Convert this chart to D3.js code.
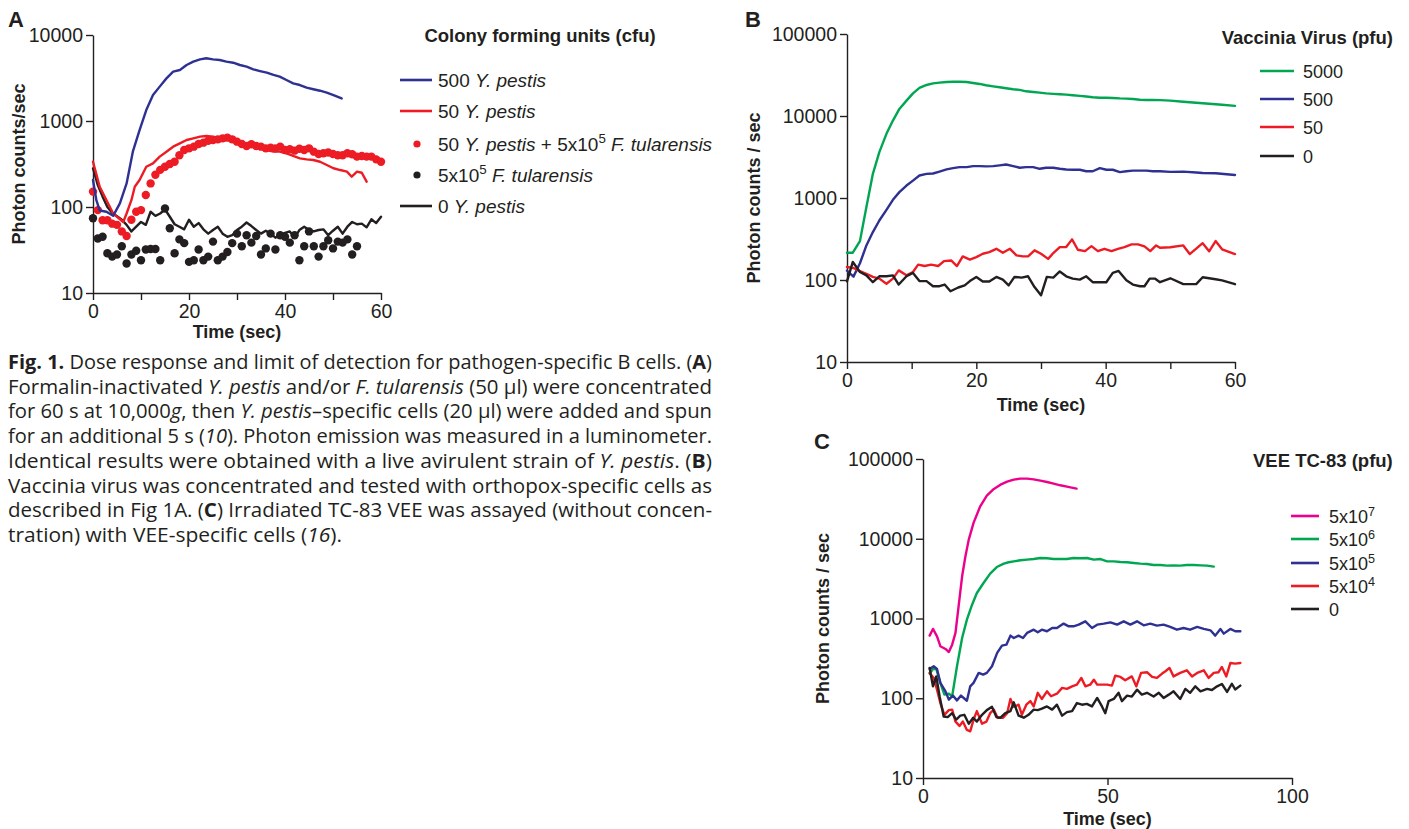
<!DOCTYPE html>
<html>
<head>
<meta charset="utf-8">
<script src="https://cdn.jsdelivr.net/npm/d3@7"></script>
<style>
  body { margin: 0; background: #fff; }
  svg text { font-family: "Liberation Sans", Arial, Helvetica, sans-serif; fill: #231f20; white-space: pre; }
  .caption text { font-family: "Liberation Sans Narrow", "Open Sans", sans-serif; }
</style>
</head>
<body>
<svg id="fig" width="1409" height="829"></svg>
<script>
// ---- Panel A: Y. pestis / F. tularensis (time in sec, photon counts/sec)
const aBlue500 = [[0,206],[0.7,120],[1.4,91],[2.8,88],[4.2,79],[5.6,110],[7,188],[8.3,440],[9.7,785],[11.1,1340],[12.5,2000],[13.9,2510],[15.3,3130],[16.7,3750],[18.1,3920],[19.5,4480],[20.9,4900],[22.3,5210],[23.6,5360],[25,5210],[26.4,5120],[27.8,4900],[29.2,4760],[30.6,4480],[32,4280],[33.4,3990],[34.8,3810],[36.2,3650],[37.6,3430],[38.9,3280],[40.3,3000],[41.7,2740],[43.1,2620],[44.5,2440],[45.9,2340],[47.3,2250],[48.7,2140],[50.1,2000],[51.8,1830]];
const aRed50 = [[0,336],[1.4,172],[4.2,84],[6.3,67],[7,84],[8,120],[8.7,172],[9.7,206],[11.1,294],[12.5,322],[13.9,385],[15.3,440],[16.7,503],[18.1,550],[19.5,601],[20.9,628],[22.3,658],[23.6,670],[25,658],[26.4,628],[27.8,612],[29.2,575],[30.6,541],[32,512],[33.4,503],[34.8,481],[36.2,460],[37.6,440],[38.9,440],[40.3,421],[41.7,392],[43.1,368],[44.5,358],[45.9,352],[47.3,336],[48.7,308],[50.1,282],[51.5,269],[52.9,258],[53.9,225],[55,258],[56,250],[57,197]];
// dots sampled once per second starting at t = 0
const aRedDots = [151,92,70,70,64,62,52,46,71,88,92,138,188,237,270,294,316,336,400,460,481,503,541,560,590,601,612,628,640,612,575,541,512,537,512,503,481,490,481,503,460,470,452,475,460,481,440,414,421,430,414,400,400,421,410,385,392,385,385,358,336];
const aBlackDots = [74,43,45,29,26.5,28,35,22,28,31,24,32,32.5,32.5,24,96,56.5,29,42,38,23,24,32,24,26.5,39.6,24,26.5,30,38,49,35,47,38.5,46,28,33,49,32,47,45,38.5,47,24,35,52,35,26.5,35,41,33,39.6,38.5,42,28,35];
const aBlack0 = [282,180,132,100,85,78,71,62,52,59,67,62,88,79,84,94,77,63,59,55,71,59,65,55,49,54,59,49,45,47,54,59,66,60,54,49,53,49,44,47,50,52,44,54,59,54,52,54,55,47,53,59,49,59,67,63,64,58,72,65,77];

// ---- Panel B: Vaccinia virus (pfu)
const bGreen5000 = [[0,215],[0.9,215],[2,298],[3,776],[4,1970],[5,3620],[6.1,6060],[7.1,8790],[8.1,12200],[9.2,15400],[10.2,18900],[11.2,22000],[12.3,23900],[13.3,25000],[14.3,25500],[15.4,26000],[16.4,26200],[17.4,26200],[18.5,26000],[19.5,25300],[20.5,24600],[21.5,23700],[22.6,23000],[23.6,22400],[24.6,21800],[25.7,21200],[26.7,20800],[27.7,20000],[28.8,19600],[29.8,19300],[30.8,18900],[31.9,18600],[32.9,18400],[33.9,18200],[34.9,17900],[36,17600],[37,17300],[38,16900],[39.1,16700],[40.1,16700],[41.1,16600],[42.2,16400],[43.2,16300],[44.2,16100],[45.3,15800],[46.3,15700],[47.3,15700],[48.4,15600],[50,15400],[52,14900],[54,14500],[56,14100],[58,13700],[60,13300]];
const bBlue500 = [[0,130],[1,110],[2,160],[3,264],[4,384],[5,532],[6.1,718],[7.1,950],[8.1,1180],[9.2,1420],[10.2,1630],[11.2,1880],[12.3,1970],[13.3,1990],[14.3,2100],[15.4,2230],[16.4,2310],[17.4,2380],[18.5,2380],[19.5,2450],[20.5,2450],[21.5,2430],[22.6,2450],[23.6,2500],[24.6,2560],[25.7,2450],[26.7,2340],[27.7,2380],[28.8,2380],[29.8,2270],[30.8,2340],[31.9,2340],[32.9,2270],[33.9,2230],[34.9,2210],[36,2210],[37,2120],[38,2120],[39.1,2310],[40.1,2210],[41.1,2210],[42.2,2070],[43.2,2120],[44.2,2160],[45.3,2160],[46.3,2160],[47.3,2120],[48.4,2120],[50,2080],[52,2100],[54,2050],[55,2020],[57,2000],[60,1910]];
const bRed50 = [[0,144],[1,140],[2,128],[3,119],[4,109],[5,104],[6.1,90],[7.1,104],[8,131],[9.2,114],[10.2,125],[11,154],[12,148],[13,154],[14.1,148],[15,170],[16.1,173],[17,148],[17.9,194],[19,177],[20,190],[21,209],[22,219],[23.1,240],[24.1,215],[25.2,240],[26.2,200],[27.2,194],[28,194],[29,230],[30,209],[31.1,181],[31.9,213],[32.9,252],[33.9,252],[34.8,313],[35.7,234],[36.8,225],[37.8,259],[38.8,225],[39.8,240],[40.9,225],[41.9,240],[42.9,252],[44,272],[45,272],[46,257],[46.9,225],[47.8,264],[48.4,247],[50,251],[52,264],[53,207],[55,281],[56,224],[57,298],[58,237],[60,207]];
const bBlack0 = [[0,96],[0.9,166],[2,125],[3,114],[4,94],[5,111],[6.1,111],[7.1,114],[8,88],[9.2,111],[10.2,122],[11.2,97],[12.3,97],[13.3,84],[14.3,84],[15.1,88],[16,73],[17.2,81],[18.2,86],[19,97],[20,109],[21,96],[22,96],[23.1,109],[24.1,101],[25,86],[25.9,109],[27,107],[28,111],[29,82],[30,65],[30.9,109],[31.9,107],[32.9,127],[33.9,111],[34.9,104],[36,101],[37,111],[38,94],[39,94],[40.1,94],[41.1,122],[42,129],[43.2,99],[44.2,88],[45.3,84],[46,84],[46.8,104],[47.6,104],[48.4,94],[50,105],[52,89],[54,89],[55,108],[57,102],[58,99],[60,89]];

// ---- Panel C: VEE TC-83 (pfu)
const cMagenta = [[1.8,610],[2.7,740],[3.8,598],[4.7,449],[6.1,415],[7,380],[7.9,470],[8.8,659],[9.7,1490],[10.6,3380],[11.5,6030],[12.4,9750],[13.7,15800],[15.5,25500],[17.3,34700],[19.2,42100],[21,47700],[22.8,52000],[24.6,55100],[26.4,56700],[28.2,56700],[30,55600],[31.8,53500],[33.6,51500],[35.4,49100],[37.2,46800],[39,45000],[41.6,42500]];
const cGreen = [[1.8,204],[2.7,233],[3.6,233],[4.7,156],[5.8,111],[7,114],[7.9,106],[9.2,250],[10.6,570],[11.9,968],[13.3,1490],[14.6,2090],[16.4,2790],[18.2,3650],[20,4420],[21.9,4870],[23.2,5070],[24.6,5210],[26.4,5370],[28.2,5470],[30,5570],[31.8,5740],[33.6,5700],[35.4,5570],[37.2,5570],[39,5570],[40.8,5740],[42.6,5700],[44.4,5740],[46.3,5470],[48.1,5570],[49.9,5210],[51.7,5210],[53.5,5120],[55.3,5070],[57.1,4960],[58.9,4870],[60.7,4830],[62.5,4690],[64.3,4690],[66.1,4600],[67.9,4640],[69.7,4600],[71.5,4690],[73.4,4690],[75.2,4640],[77,4600],[78.8,4470]];
const cBlue = [[1.8,233],[2.9,252],[3.8,233],[4.7,156],[6.1,122],[7,96],[8.1,108],[9.2,94],[10.3,108],[11.9,93],[12.8,141],[13.7,156],[15.1,208],[16.3,198],[17.3,208],[18.7,252],[20.1,370],[21.4,457],[22.6,470],[23.7,610],[24.6,570],[25.9,610],[27.1,570],[28.2,659],[30,724],[31.1,671],[32.2,724],[33.6,692],[35,760],[36.3,760],[38.1,863],[39.5,798],[40.8,798],[42.2,837],[44,922],[45.8,760],[47.2,837],[49,863],[50.8,895],[52.6,837],[54.4,922],[56.2,837],[58,922],[59.8,822],[61.6,863],[63.4,815],[65.2,837],[67,783],[68.8,724],[70.6,760],[72.4,724],[74.3,783],[76.1,740],[77.9,711],[79.2,610],[80.6,740],[81.5,646],[83.3,740],[84.6,692],[86,692]];
const cRed = [[1.8,208],[2.9,180],[3.8,128],[4.7,87],[5.8,62],[7,71],[7.9,72],[8.8,51],[9.9,45],[10.8,51],[11.9,40],[12.8,38.5],[13.7,54],[14.6,69],[16,48],[17.2,51],[18.2,65],[19.2,72],[20.2,57],[21.7,57],[22.8,65],[23.7,98],[24.6,78],[25.9,83],[26.8,62],[28,83],[29.1,92],[30,79],[31.1,117],[32.2,98],[33.6,122],[34.7,106],[36.3,114],[37.7,135],[39,131],[40.4,141],[41.7,148],[42.9,180],[44,141],[45.3,148],[46.3,171],[47.2,148],[48.5,148],[49.9,148],[51.2,144],[52.1,192],[53.5,185],[54.8,168],[56.6,188],[57.8,141],[59.1,208],[60.7,212],[62.1,185],[63.4,180],[64.8,204],[65.7,218],[66.8,240],[67.9,188],[69.7,208],[71.5,224],[72.9,188],[74.3,208],[76.1,224],[77.4,180],[78.8,208],[80.1,212],[81,247],[82.2,188],[83.3,277],[84.6,272],[86,277]];
const cBlack = [[1.8,240],[2.7,141],[3.6,188],[4.5,106],[5.6,59],[6.7,58],[7.9,65],[9,54],[10.1,60.5],[11.2,62],[12.4,48],[13.6,57],[14.6,51],[16,62],[17.3,71],[18.7,78],[19.9,58],[21,57],[22.3,65],[23.7,69],[24.6,89],[25.9,60.5],[27.3,57],[28.6,62],[30,72],[31.1,71],[32.2,74],[33.6,79],[35,72],[36.3,83],[37.7,60.5],[39,67],[40.4,69],[41.7,87],[43.1,83],[44.4,85],[45.8,79],[47.2,101],[48.5,79],[49.4,65],[50.3,92],[51.7,98],[53,117],[53.9,92],[55.3,108],[56.6,105],[58,128],[59.3,111],[60.7,117],[62.5,105],[63.9,117],[65.2,101],[66.6,111],[67.9,122],[69.7,98],[71.1,131],[72.4,117],[73.8,141],[75.2,122],[77,131],[78.3,127],[79.7,141],[81,151],[82.4,120],[83.7,152],[84.6,129],[86,144]];

// ---- legends (segments: '' plain, 'i' italic, 'b' bold, 'sup' superscript)
const legendALabels = [
  [['500 ',''],['Y. pestis','i']],
  [['50 ',''],['Y. pestis','i']],
  [['50 ',''],['Y. pestis','i'],[' + 5x10',''],['5','sup'],[' ',''],['F. tularensis','i']],
  [['5x10',''],['5','sup'],[' ',''],['F. tularensis','i']],
  [['0 ',''],['Y. pestis','i']]
];
const legendBLabels = [[['5000','']],[['500','']],[['50','']],[['0','']]];
const legendCLabels = [[['5x10',''],['7','sup']],[['5x10',''],['6','sup']],[['5x10',''],['5','sup']],[['5x10',''],['4','sup']],[['0','']]];

const captionLines = [
  [['Fig. 1.','b'],[' Dose response and limit of detection for pathogen-specific B cells. (',''],['A','b'],[')','']],
  [['Formalin-inactivated ',''],['Y. pestis','i'],[' and/or ',''],['F. tularensis','i'],[' (50 \u00b5l) were concentrated','']],
  [['for 60 s at 10,000',''],['g','i'],[', then ',''],['Y. pestis','i'],['\u2013specific cells (20 \u00b5l) were added and spun','']],
  [['for an additional 5 s (',''],['10','i'],['). Photon emission was measured in a luminometer.','']],
  [['Identical results were obtained with a live avirulent strain of ',''],['Y. pestis','i'],['. (',''],['B','b'],[')','']],
  [['Vaccinia virus was concentrated and tested with orthopox-specific cells as','']],
  [['described in Fig 1A. (',''],['C','b'],[') Irradiated TC-83 VEE was assayed (without concen-','']],
  [['tration) with VEE-specific cells (',''],['16','i'],[').','']]
];

const COL = { blue: '#2e3192', red: '#ed1c24', green: '#00a651', magenta: '#ec008c', black: '#231f20' };

const svg = d3.select('#fig');

function richText(sel, segs, size) {
  let raised = false;
  segs.forEach(([txt, st]) => {
    const t = sel.append('tspan').text(txt);
    if (st === 'i') t.attr('font-style', 'italic');
    if (st === 'b') t.attr('font-weight', 'bold');
    if (st === 'sup') {
      t.attr('dy', -size * 0.38).attr('font-size', size * 0.7);
      raised = true;
    } else if (raised) {
      t.attr('dy', size * 0.38);
      raised = false;
    }
  });
}

function drawPanel(p) {
  const g = svg.append('g');
  const x = d3.scaleLinear().domain(p.xDomain).range([p.left, p.right]);
  const y = d3.scaleLog().domain(p.yDomain).range([p.bottom, p.top]);

  const yAxis = g.append('g')
    .attr('transform', `translate(${p.left},0)`)
    .call(d3.axisLeft(y).tickValues(p.yTicks).tickFormat(d3.format('d')).tickSize(7).tickSizeOuter(0).tickPadding(3));
  const xAxis = g.append('g')
    .attr('transform', `translate(0,${p.bottom})`)
    .call(d3.axisBottom(x).tickValues(p.xTicks).tickFormat(d => p.xLabels.includes(d) ? d : '').tickSize(7).tickSizeOuter(0).tickPadding(4));
  [yAxis, xAxis].forEach(a => {
    a.attr('font-family', null).attr('font-size', null);
    a.selectAll('path, line').attr('stroke', COL.black).attr('stroke-width', 1.4);
    a.selectAll('text').attr('font-size', 19.5).attr('fill', COL.black);
  });

  // panel letter
  g.append('text').attr('x', p.letterX).attr('y', p.letterY)
    .attr('font-size', 22).attr('font-weight', 'bold').text(p.letter);
  // axis titles
  g.append('text').attr('x', (p.left + p.right) / 2).attr('y', p.xTitleY)
    .attr('text-anchor', 'middle').attr('font-size', 18).attr('font-weight', 'bold').text('Time (sec)');
  g.append('text')
    .attr('transform', `translate(${p.yTitleX},${(p.top + p.bottom) / 2}) rotate(-90)`)
    .attr('text-anchor', 'middle').attr('font-size', 18).attr('font-weight', 'bold').text(p.yTitle);

  const line = d3.line().x(d => x(d[0])).y(d => y(d[1]));
  p.series.forEach(s => {
    const pts = s.pairs ? s.data : s.data.map((v, i) => [i, v]);
    if (s.dots) {
      g.append('g').selectAll('circle').data(pts).enter().append('circle')
        .attr('cx', d => x(d[0])).attr('cy', d => y(d[1])).attr('r', 4.2).attr('fill', s.color);
    } else {
      g.append('path').datum(pts)
        .attr('fill', 'none').attr('stroke', s.color).attr('stroke-width', 2.4)
        .attr('stroke-linejoin', 'round').attr('stroke-linecap', 'round')
        .attr('d', line);
    }
  });

  // legend
  const L = p.legend;
  g.append('text').attr('x', L.titleX).attr('y', L.titleY).attr('text-anchor', L.titleAnchor)
    .attr('font-size', 18.5).attr('font-weight', 'bold').text(L.title);
  L.labels.forEach((lab, i) => {
    const cy = L.rows[i];
    const it = L.items[i];
    if (it.dots) {
      g.append('circle').attr('cx', L.dotX).attr('cy', cy).attr('r', 3.6).attr('fill', it.color);
    } else {
      g.append('line').attr('x1', L.x1).attr('x2', L.x2).attr('y1', cy).attr('y2', cy)
        .attr('stroke', it.color).attr('stroke-width', 2.6);
    }
    const t = g.append('text').attr('x', L.textX).attr('y', cy + 6.5).attr('font-size', L.size);
    richText(t, lab, L.size);
  });
}

// Panel A
drawPanel({
  letter: 'A', letterX: 8, letterY: 27,
  left: 93, right: 381, top: 35, bottom: 293,
  xDomain: [0, 60], yDomain: [10, 10000],
  xTicks: [0, 10, 20, 30, 40, 50, 60], xLabels: [0, 20, 40, 60],
  yTicks: [10, 100, 1000, 10000],
  xTitleY: 338, yTitleX: 25, yTitle: 'Photon counts/sec',
  series: [
    { data: aBlack0, color: COL.black },
    { data: aBlackDots, color: COL.black, dots: true },
    { data: aRed50, pairs: true, color: COL.red },
    { data: aRedDots, color: COL.red, dots: true },
    { data: aBlue500, pairs: true, color: COL.blue }
  ],
  legend: {
    title: 'Colony forming units (cfu)', titleX: 540, titleY: 42, titleAnchor: 'middle',
    labels: legendALabels, size: 19,
    items: [{ color: COL.blue }, { color: COL.red }, { color: COL.red, dots: true }, { color: COL.black, dots: true }, { color: COL.black }],
    rows: [80, 111, 144, 175, 206], x1: 400, x2: 432, dotX: 417, textX: 438
  }
});

// Panel B
drawPanel({
  letter: 'B', letterX: 745, letterY: 27,
  left: 847, right: 1235, top: 34, bottom: 362,
  xDomain: [0, 60], yDomain: [10, 100000],
  xTicks: [0, 10, 20, 30, 40, 50, 60], xLabels: [0, 20, 40, 60],
  yTicks: [10, 100, 1000, 10000, 100000],
  xTitleY: 411, yTitleX: 760, yTitle: 'Photon counts / sec',
  series: [
    { data: bGreen5000, pairs: true, color: COL.green },
    { data: bBlue500, pairs: true, color: COL.blue },
    { data: bRed50, pairs: true, color: COL.red },
    { data: bBlack0, pairs: true, color: COL.black }
  ],
  legend: {
    title: 'Vaccinia Virus (pfu)', titleX: 1393, titleY: 44, titleAnchor: 'end',
    labels: legendBLabels, size: 18,
    items: [{ color: COL.green }, { color: COL.blue }, { color: COL.red }, { color: COL.black }],
    rows: [71, 99, 127, 156], x1: 1260, x2: 1294, textX: 1303
  }
});

// Panel C
drawPanel({
  letter: 'C', letterX: 814, letterY: 449,
  left: 923, right: 1292, top: 459, bottom: 778,
  xDomain: [0, 100], yDomain: [10, 100000],
  xTicks: [0, 50, 100], xLabels: [0, 50, 100],
  yTicks: [10, 100, 1000, 10000, 100000],
  xTitleY: 825, yTitleX: 829, yTitle: 'Photon counts / sec',
  series: [
    { data: cMagenta, pairs: true, color: COL.magenta },
    { data: cGreen, pairs: true, color: COL.green },
    { data: cBlue, pairs: true, color: COL.blue },
    { data: cRed, pairs: true, color: COL.red },
    { data: cBlack, pairs: true, color: COL.black }
  ],
  legend: {
    title: 'VEE TC-83 (pfu)', titleX: 1253, titleY: 467, titleAnchor: 'start',
    labels: legendCLabels, size: 18,
    items: [{ color: COL.magenta }, { color: COL.green }, { color: COL.blue }, { color: COL.red }, { color: COL.black }],
    rows: [516, 539, 563, 586, 609], x1: 1291, x2: 1319, textX: 1329
  }
});

// caption
const cap = svg.append('g').attr('class', 'caption');
captionLines.forEach((segs, i) => {
  const last = i === captionLines.length - 1;
  const t = cap.append('text')
    .attr('x', 8).attr('y', 369 + i * 24.7)
    .attr('font-size', 20)
    .attr('textLength', last ? 334 : 704)
    .attr('lengthAdjust', 'spacingAndGlyphs');
  richText(t, segs, 20);
});
</script>
</body>
</html>
